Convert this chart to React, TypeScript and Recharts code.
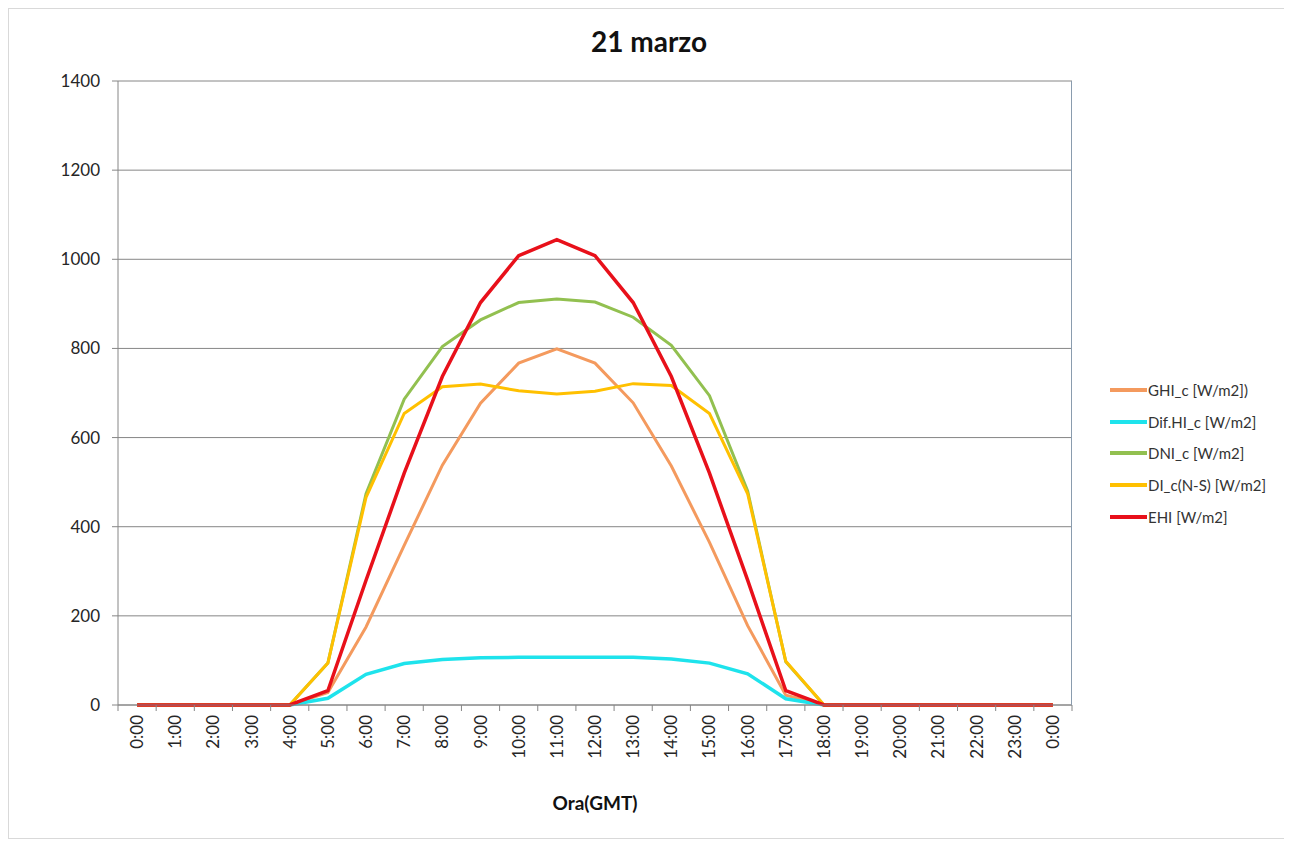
import { CartesianGrid, Line, LineChart, XAxis, YAxis } from "recharts";

const hours = [
  "0:00", "1:00", "2:00", "3:00", "4:00", "5:00", "6:00", "7:00", "8:00", "9:00",
  "10:00", "11:00", "12:00", "13:00", "14:00", "15:00", "16:00", "17:00", "18:00",
  "19:00", "20:00", "21:00", "22:00", "23:00", "0:00",
];

const ghi = [0, 0, 0, 0, 0, 28, 175, 358, 538, 677, 767, 799, 767, 678, 536, 365, 178, 22, 0, 0, 0, 0, 0, 0, 0];
const difHi = [0, 0, 0, 0, 0, 15, 69, 93, 102, 106, 107, 107, 107, 107, 103, 94, 70, 14, 0, 0, 0, 0, 0, 0, 0];
const dni = [0, 0, 0, 0, 0, 94, 474, 686, 804, 864, 903, 911, 904, 870, 807, 694, 480, 97, 0, 0, 0, 0, 0, 0, 0];
const diNs = [0, 0, 0, 0, 0, 94, 466, 654, 714, 720, 705, 698, 704, 721, 717, 654, 474, 98, 0, 0, 0, 0, 0, 0, 0];
const ehi = [0, 0, 0, 0, 0, 32, 280, 520, 737, 903, 1008, 1044, 1008, 903, 737, 520, 280, 32, 0, 0, 0, 0, 0, 0, 0];

const yTicks = [0, 200, 400, 600, 800, 1000, 1200, 1400];

const series = [
  { key: "ghi", name: "GHI_c [W/m2])", color: "#F49A5E", width: 3 },
  { key: "dif", name: "Dif.HI_c [W/m2]", color: "#1EE3EC", width: 3.5 },
  { key: "dni", name: "DNI_c [W/m2]", color: "#92C050", width: 3 },
  { key: "dins", name: "DI_c(N-S) [W/m2]", color: "#FFC000", width: 3 },
  { key: "ehi", name: "EHI [W/m2]", color: "#E8101A", width: 3.5 },
];

// idx keeps the two "0:00" categories apart
const data = hours.map((h, i) => ({
  idx: i,
  hour: h,
  ghi: ghi[i],
  dif: difHi[i],
  dni: dni[i],
  dins: diNs[i],
  ehi: ehi[i],
}));

const FONT = "Lato, 'Open Sans', sans-serif";
const BOX_W = 1282;
const CHART_W = 1280;
const CHART_H = 829;
const MARGIN = { top: 72, right: 217, bottom: 73, left: 0 };
const Y_AXIS_W = 109;
const X_AXIS_H = 60;
const PLOT_W = CHART_W - MARGIN.left - MARGIN.right - Y_AXIS_W;
const PLOT_H = CHART_H - MARGIN.top - MARGIN.bottom - X_AXIS_H;
const BAND = PLOT_W / hours.length;

function HourTick(props: any) {
  const { x, y, payload, index } = props;
  const last = index === hours.length - 1;
  return (
    <g transform={`translate(${x},${y})`}>
      <line x1={-BAND / 2} y1={0} x2={-BAND / 2} y2={6} stroke="#868686" />
      {last && <line x1={BAND / 2} y1={0} x2={BAND / 2} y2={6} stroke="#868686" />}
      <text
        transform="rotate(-90)"
        x={-10}
        y={0}
        dy={6}
        textAnchor="end"
        fontSize={17}
        fontFamily={FONT}
        fill="#262626"
      >
        {hours[payload.value]}
      </text>
    </g>
  );
}

function LegendBox() {
  return (
    <div
      style={{
        position: "absolute",
        left: 1101,
        top: 365,
        fontFamily: FONT,
        fontSize: 15,
        color: "#333",
      }}
    >
      {series.map((s) => (
        <div key={s.key} style={{ height: 31.7, display: "flex", alignItems: "center" }}>
          <span style={{ display: "inline-block", width: 37, height: 4, background: s.color }} />
          <span style={{ marginLeft: 1, whiteSpace: "nowrap" }}>{s.name}</span>
        </div>
      ))}
    </div>
  );
}

export default function App() {
  return (
    <div
      style={{
        position: "relative",
        width: BOX_W,
        height: CHART_H,
        border: "1px solid #d9d9d9",
        background: "#fff",
        fontFamily: FONT,
      }}
    >
      <div
        style={{
          position: "absolute",
          top: 15,
          left: 0,
          width: CHART_W,
          textAlign: "center",
          fontSize: 28,
          fontWeight: 700,
          color: "#111",
        }}
      >
        21 marzo
      </div>
      <LineChart width={CHART_W} height={CHART_H} data={data} margin={MARGIN}>
        <CartesianGrid vertical={false} stroke="#868686" />
        <XAxis
          dataKey="idx"
          type="number"
          domain={[0, hours.length - 1]}
          ticks={data.map((d) => d.idx)}
          interval={0}
          padding={{ left: BAND / 2, right: BAND / 2 }}
          height={X_AXIS_H}
          tickSize={0}
          tickMargin={0}
          tickLine={false}
          axisLine={{ stroke: "#868686" }}
          tick={<HourTick />}
        />
        <YAxis
          domain={[0, 1400]}
          ticks={yTicks}
          width={Y_AXIS_W}
          interval={0}
          tickSize={6}
          tickMargin={12}
          axisLine={{ stroke: "#868686" }}
          tickLine={{ stroke: "#868686" }}
          tick={{ fontSize: 17, fontFamily: FONT, fill: "#262626" }}
        />
        {series.map((s) => (
          <Line
            key={s.key}
            type="linear"
            dataKey={s.key}
            name={s.name}
            stroke={s.color}
            strokeWidth={s.width}
            dot={false}
            activeDot={false}
            isAnimationActive={false}
          />
        ))}
      </LineChart>
      {/* right edge of the plot frame */}
      <div
        style={{
          position: "absolute",
          left: MARGIN.left + Y_AXIS_W + PLOT_W - 1,
          top: MARGIN.top,
          width: 1,
          height: PLOT_H,
          background: "#8A9CAE",
        }}
      />
      <LegendBox />
      <div
        style={{
          position: "absolute",
          top: 782,
          left: MARGIN.left + Y_AXIS_W,
          width: PLOT_W,
          textAlign: "center",
          fontSize: 19,
          fontWeight: 700,
          color: "#111",
        }}
      >
        Ora(GMT)
      </div>
    </div>
  );
}
